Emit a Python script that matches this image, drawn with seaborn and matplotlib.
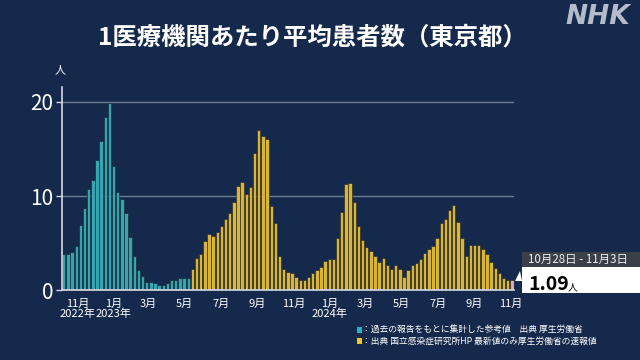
import pandas as pd
import matplotlib
matplotlib.use("Agg")
import matplotlib.pyplot as plt
from matplotlib.patches import Rectangle, Polygon
import seaborn as sns

# weekly values (week ending Sunday), Tokyo
FIRST_WEEK = "2022-10-09"
ref_values = [3.9, 3.9, 4.1, 4.7, 6.9, 8.7, 10.7, 11.7, 13.8, 15.8, 18.4, 19.9,
              13.2, 10.4, 9.7, 8.2, 5.7, 3.6, 2.2, 1.5, 0.9, 0.85, 0.8, 0.6,
              0.6, 0.8, 1.05, 1.1, 1.3, 1.35, 1.3]
new_values = [2.3, 3.45, 3.9, 5.2, 6.0, 5.8, 6.2, 6.8, 7.6, 8.2, 9.35, 11.1,
              11.5, 10.2, 11.0, 14.6, 17.0, 16.4, 16.1, 8.9, 7.1, 3.6, 2.25, 1.9,
              1.8, 1.4, 1.1, 1.1, 1.4, 1.8, 2.2, 2.5, 3.1, 3.35, 3.3, 5.6,
              8.3, 11.3, 11.4, 9.4, 6.8, 5.3, 4.6, 4.2, 3.6, 3.0, 3.4, 2.65,
              2.3, 2.7, 2.3, 1.45, 2.2, 2.7, 2.9, 3.3, 4.0, 4.4, 4.7, 5.6,
              7.1, 7.6, 8.5, 9.1, 7.2, 5.5, 3.6, 4.8, 4.8, 4.8, 4.4, 3.9,
              3.0, 2.4, 1.8, 1.3, 1.1]
latest_value = 1.09

y_ticks = [0, 10, 20]
title = "1医療機関あたり平均患者数（東京都）"
legend_ref = "：過去の報告をもとに集計した参考値　出典 厚生労働省"
legend_new = "：出典 国立感染症研究所HP 最新値のみ厚生労働省の速報値"

BG = "#14294b"
TEAL = "#1fb6c6"
YELLOW = "#f3c41b"
PINK = "#e9a2a2"

values = ref_values + new_values + [latest_value]
weeks = pd.date_range(FIRST_WEEK, periods=len(values), freq="7D")
df = pd.DataFrame({
    "week": weeks.strftime("%Y-%m-%d"),
    "value": values,
    "src": ["ref"] * len(ref_values) + ["new"] * len(new_values) + ["latest"],
})

sns.set_style("dark", {"axes.facecolor": BG, "figure.facecolor": BG})
plt.rcParams["font.family"] = ["Noto Sans CJK JP", "DejaVu Sans"]

fig = plt.figure(figsize=(6.4, 3.6), dpi=100)
fig.patch.set_facecolor(BG)
ax = fig.add_axes([0.0964, 0.1936, 0.706, 0.5656])
ax.set_facecolor(BG)

for yv in y_ticks[1:]:
    ax.axhline(yv, color="#6f7d93", lw=1.0, zorder=0)

sns.barplot(data=df, x="week", y="value", hue="src",
            palette={"ref": TEAL, "new": YELLOW, "latest": PINK},
            dodge=False, width=0.82, errorbar=None, legend=False,
            edgecolor="#1b1e26", linewidth=0.4, ax=ax, zorder=2)

ax.set_xlim(-0.5, len(values) - 0.6)
ax.set_ylim(0, 21.6)
ax.set_xlabel("")
ax.set_ylabel("")

# month ticks placed by date on the weekly positions
tick_dates = pd.date_range("2022-11-01", "2024-11-01", freq="2MS")
tick_pos = [(d - weeks[0]).days / 7 for d in tick_dates]
tick_labels = []
for i, d in enumerate(tick_dates):
    lbl = f"{d.month}月"
    if i == 0 or d.month == 1:
        lbl += f"\n{d.year}年"
    tick_labels.append(lbl)
ax.set_xticks(tick_pos)
ax.set_xticklabels(tick_labels, color="white", fontsize=8, va="top")
for t in ax.get_xticklabels():
    t.set_linespacing(1.0)
ax.tick_params(axis="x", length=0, pad=6)

ax.set_yticks(y_ticks)
ax.set_yticklabels([str(v) for v in y_ticks], color="white", fontsize=15)
ax.tick_params(axis="y", length=4, width=1, color="#d5dae2", pad=2, left=True)

for side in ["top", "right"]:
    ax.spines[side].set_visible(False)
for side in ["left", "bottom"]:
    ax.spines[side].set_visible(True)
    ax.spines[side].set_color("#d5dae2")
    ax.spines[side].set_linewidth(1.2)
ax.grid(False)

fig.text(60 / 640, 1 - 70 / 360, "人", color="white", fontsize=8,
         ha="center", va="center")

fig.text(312 / 640, 1 - 38 / 360, title, color="white", fontsize=17.6,
         fontweight="bold", ha="center", va="center")
fig.text(630 / 640, 1 - 17 / 360, "NHK", color="#b3bcc8", fontsize=19,
         fontweight="bold", style="italic", family="DejaVu Sans",
         ha="right", va="center")

# latest value callout
last = weeks[-1]
start = last - pd.Timedelta(days=6)
date_txt = f"{start.month}月{start.day}日 - {last.month}月{last.day}日"
fig.add_artist(Rectangle((521.7 / 640, 1 - 266.7 / 360), 120 / 640, 15 / 360,
                         transform=fig.transFigure, color="#3b4048", lw=0))
fig.add_artist(Rectangle((521.7 / 640, 1 - 293.3 / 360), 120 / 640, 26.6 / 360,
                         transform=fig.transFigure, color="white", lw=0))
fig.add_artist(Polygon([(515 / 640, 1 - 281 / 360), (522 / 640, 1 - 281 / 360),
                        (520 / 640, 1 - 271 / 360)],
                       transform=fig.transFigure, color="white", lw=0))
fig.text(528 / 640, 1 - 259 / 360, date_txt, color="#eeeeee", fontsize=8.3,
         ha="left", va="center")
fig.text(528 / 640, 1 - 290 / 360, f"{latest_value:.2f}", color="black",
         fontsize=14, fontweight="bold", ha="left", va="baseline")
fig.text(568 / 640, 1 - 290 / 360, "人", color="black", fontsize=7,
         ha="left", va="baseline")

# source legend
for (y_px, col, txt) in [(329.5, TEAL, legend_ref), (341, YELLOW, legend_new)]:
    fig.add_artist(Rectangle((356.7 / 640, 1 - (y_px + 3) / 360), 5.5 / 640, 6 / 360,
                             transform=fig.transFigure, color=col, lw=0))
    fig.text(362.5 / 640, 1 - y_px / 360, txt, color="white", fontsize=6.3,
             ha="left", va="center")

fig.savefig("out.png", dpi=100, facecolor=BG)
